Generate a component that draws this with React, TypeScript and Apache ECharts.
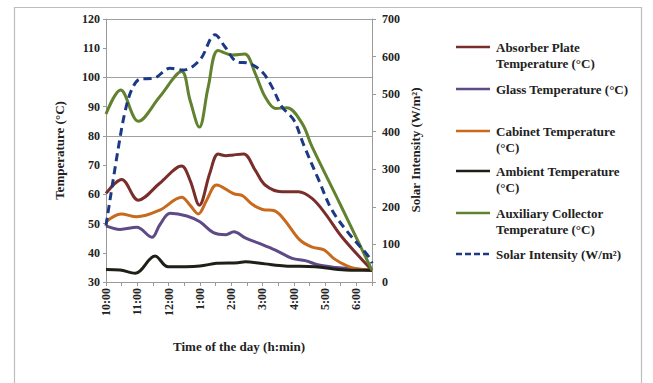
import React, { useEffect, useRef } from "react";
import * as echarts from "echarts";

// minutes after 10:00
const absorberTime = [0, 30, 62, 103, 145, 161, 179, 199, 215, 230, 244, 264, 286, 305, 337, 369, 395, 420, 452, 510];
const absorberTemp = [60.3, 65.1, 58, 63.8, 69.7, 64.9, 56.3, 67.2, 73.8, 73.2, 73.5, 73.8, 68.3, 63.2, 60.9, 60.9, 58.6, 53.5, 45.5, 34];

const glassTime = [0, 27, 59, 88, 103, 123, 155, 180, 206, 230, 245, 268, 294, 325, 357, 382, 408, 440, 470, 510];
const glassTemp = [49.2, 48, 48.7, 45.3, 49.5, 53.5, 52.6, 50.6, 46.9, 46.2, 47.2, 45, 43.2, 40.9, 38.1, 37.3, 35.8, 35, 34.6, 34];

const cabinetTime = [0, 29, 59, 103, 145, 161, 177, 193, 212, 245, 262, 281, 300, 323, 341, 371, 394, 418, 437, 462, 480, 510];
const cabinetTemp = [50.6, 53.3, 52.3, 54.6, 59, 56.3, 53.3, 58, 63.2, 60.2, 59.5, 56.5, 54.8, 54.4, 51.5, 44.5, 42, 41, 38, 35.5, 34.5, 34];

const ambientTime = [0, 27, 56, 94, 119, 180, 212, 253, 267, 305, 343, 401, 459, 510];
const ambientTemp = [34.3, 34.1, 33, 38.9, 35.2, 35.5, 36.4, 36.6, 36.9, 36.2, 35.5, 35.2, 34.1, 34];

const auxTime = [0, 28, 62, 103, 145, 161, 179, 196, 215, 242, 266, 286, 305, 325, 347, 376, 395, 449, 510];
const auxTemp = [87.5, 95.7, 85, 93.4, 102, 92.3, 83, 96.8, 109.2, 107.7, 108, 101.4, 93.4, 89.4, 89.6, 84.3, 76.3, 56.6, 34];

const solarTime = [0, 24, 36, 49, 65, 91, 123, 148, 180, 209, 228, 251, 274, 299, 318, 337, 360, 379, 408, 433, 465, 504, 510];
const solarIntensity = [150, 360, 450, 511, 540, 542, 569, 564, 591, 658, 626, 586, 582, 560, 520, 467, 431, 365, 271, 192, 130, 67, 50];

const xTickLabels = ["10:00", "11:00", "12:00", "1:00", "2:00", "3:00", "4:00", "5:00", "6:00"];

const legendNames = [
  "Absorber Plate\nTemperature (°C)",
  "Glass Temperature (°C)",
  "Cabinet Temperature\n(°C)",
  "Ambient Temperature\n(°C)",
  "Auxiliary Collector\nTemperature (°C)",
  "Solar Intensity (W/m²)",
];
const colors = ["#7a2e2c", "#5e4a86", "#c86a1e", "#1f1f17", "#62822f", "#1c3a84"];

const FONT = '"Liberation Serif", "Times New Roman", serif';

const pairs = (t: number[], v: number[]) => t.map((x, i) => [x, v[i]]);

export default function App() {
  const ref = useRef<HTMLDivElement>(null);
  useEffect(() => {
    const chart = echarts.init(ref.current!, null, { renderer: "svg" });
    const dataSets = [
      pairs(absorberTime, absorberTemp),
      pairs(glassTime, glassTemp),
      pairs(cabinetTime, cabinetTemp),
      pairs(ambientTime, ambientTemp),
      pairs(auxTime, auxTemp),
      pairs(solarTime, solarIntensity),
    ];
    const rowY = [47, 89, 131, 171, 213, 254];
    const legendGraphics: any[] = [];
    legendNames.forEach((name, i) => {
      legendGraphics.push({
        type: "line",
        shape: { x1: 456, y1: rowY[i], x2: 490, y2: rowY[i] },
        style: { stroke: colors[i], lineWidth: 2.5, lineDash: i === 5 ? [6, 3] : null },
        silent: true,
      });
      legendGraphics.push({
        type: "text",
        x: 496,
        y: rowY[i] - 8,
        style: {
          text: name,
          fill: "#222",
          font: `bold 13px ${FONT}`,
          lineHeight: 16,
          verticalAlign: "top",
          align: "left",
        },
        silent: true,
      });
    });
    chart.setOption({
      animation: false,
      backgroundColor: "#fff",
      grid: { left: 106, top: 19, width: 266, height: 263, containLabel: false },
      xAxis: {
        type: "value",
        min: 0,
        max: 510,
        interval: 30,
        name: "Time of the day (h:min)",
        nameLocation: "middle",
        nameGap: 58,
        nameTextStyle: { fontFamily: FONT, fontWeight: "bold", fontSize: 13, color: "#222" },
        axisLine: { lineStyle: { color: "#9a9a9a", width: 1 } },
        axisTick: { show: true, length: 4, lineStyle: { color: "#9a9a9a" } },
        splitLine: { show: false },
        axisLabel: {
          rotate: 90,
          margin: 6,
          fontFamily: FONT,
          fontWeight: "bold",
          fontSize: 12,
          color: "#222",
          showMaxLabel: true,
          formatter: (v: number) => (v % 60 === 0 ? xTickLabels[v / 60] ?? "" : ""),
        },
      },
      yAxis: [
        {
          type: "value",
          min: 30,
          max: 120,
          interval: 10,
          name: "Temperature (°C)",
          nameLocation: "middle",
          nameGap: 40,
          nameTextStyle: { fontFamily: FONT, fontWeight: "bold", fontSize: 13, color: "#222" },
          axisLine: { show: true, lineStyle: { color: "#9a9a9a" } },
          axisTick: { show: true, length: 3, lineStyle: { color: "#9a9a9a" } },
          splitLine: { show: false },
          axisLabel: { fontFamily: FONT, fontWeight: "bold", fontSize: 12, color: "#222", margin: 6 },
        },
        {
          type: "value",
          min: 0,
          max: 700,
          interval: 100,
          position: "right",
          axisLine: { show: true, lineStyle: { color: "#9a9a9a" } },
          axisTick: { show: true, length: 4, lineStyle: { color: "#9a9a9a" } },
          splitLine: { show: false },
          axisLabel: { fontFamily: FONT, fontWeight: "bold", fontSize: 12, color: "#222", margin: 10 },
        },
      ],
      graphic: [
        {
          type: "rect",
          shape: { x: 14.5, y: 7.5, width: 627, height: 420 },
          style: { fill: null, stroke: "#bdbdbd", lineWidth: 1.2 },
          silent: true,
          z: -1,
        },
        {
          type: "text",
          x: 415,
          y: 150,
          rotation: Math.PI / 2,
          style: {
            text: "Solar Intensity (W/m²)",
            fill: "#222",
            font: `bold 13px ${FONT}`,
            align: "center",
            verticalAlign: "middle",
          },
          silent: true,
        },
        ...legendGraphics,
      ],
      series: dataSets.map((d, i) => ({
        type: "line",
        name: legendNames[i].replace("\n", " "),
        yAxisIndex: i === 5 ? 1 : 0,
        data: d,
        smooth: 0.35,
        showSymbol: false,
        lineStyle: { color: colors[i], width: 3, type: i === 5 ? [8, 5] : "solid" },
        itemStyle: { color: colors[i] },
        z: i === 5 ? 4 : 3,
        markLine:
          i === 0
            ? {
                silent: true,
                symbol: "none",
                label: { show: false },
                lineStyle: { color: "#a0a0a0", width: 1, type: "solid" },
                data: [{ yAxis: 80 }, { yAxis: 100 }, { yAxis: 120 }],
                z: 1,
              }
            : undefined,
      })),
    });
    return () => chart.dispose();
  }, []);
  return (
    <div
      ref={ref}
      style={{ position: "fixed", left: 0, top: 0, width: 653, height: 383, background: "#fff" }}
    />
  );
}
